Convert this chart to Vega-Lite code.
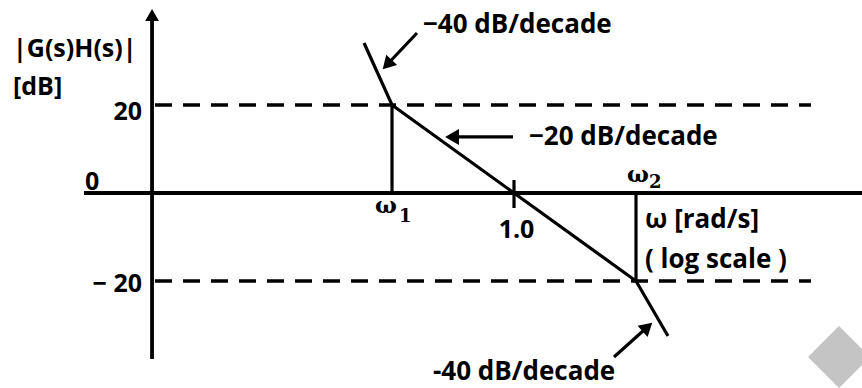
{
  "$schema": "https://vega.github.io/schema/vega-lite/v6.json",
  "width": 862,
  "height": 388,
  "autosize": "none",
  "padding": 0,
  "background": "white",
  "config": {"view": {"stroke": null}},
  "datasets": {
    "axes": [
      {"w": 0.001079, "w2": 0.001079, "db": -37.73, "db2": 39.3},
      {"w": 0.0002988, "w2": 712, "db": 0, "db2": 0}
    ],
    "solid": [
      {"w": 0.1, "w2": 0.1, "db": 0, "db2": 20},
      {"w": 10, "w2": 10, "db": -20, "db2": 0},
      {"w": 1, "w2": 1, "db": -3.41, "db2": 2.95},
      {"w": 0.1603, "w2": 0.09132, "db": 36.36, "db2": 29.2},
      {"w": 0.9813, "w2": 0.3103, "db": 12.73, "db2": 12.73},
      {"w": 6.601, "w2": 12.4, "db": -37.27, "db2": -30.45}
    ],
    "dashed": [
      {"w": 0.001141, "w2": 271.9, "db": 20, "db2": 20},
      {"w": 0.001141, "w2": 271.9, "db": -20, "db2": -20}
    ],
    "bode": [
      {"w": 0.059, "db": 34.09},
      {"w": 0.1, "db": 20},
      {"w": 1, "db": 0},
      {"w": 10, "db": -20},
      {"w": 18.29, "db": -32.5}
    ],
    "annotText": [
      {"w": 0.1795, "db": 36.36, "label": "−40 dB/decade"},
      {"w": 11.85, "db": -7.955, "label": "ω [rad/s]"},
      {"w": 11.85, "db": -17.05, "label": "( log scale )"},
      {"w": 1.327, "db": 10.91, "label": "−20 dB/decade"},
      {"w": 0.2168, "db": -42.5, "label": "-40 dB/decade"}
    ],
    "leftText": [
      {"w": 0.00007823, "db": 30.91, "label": "|G(s)H(s)|"},
      {"w": 0.00007823, "db": 22.27, "label": "[dB]"},
      {"w": 0.0003045, "db": 0.68, "label": "0"}
    ],
    "rightText": [
      {"w": 0.0008927, "db": 16.59, "label": "20"},
      {"w": 0.0008927, "db": -22.5, "label": "− 20"}
    ],
    "centerText": [
      {"w": 1.048, "db": -10.23, "label": "1.0"}
    ],
    "omega": [
      {"w": 0.07256, "db": -4.545, "label": "ω"},
      {"w": 8.438, "db": 2.5, "label": "ω"}
    ],
    "subscript": [
      {"w": 0.1142, "db": -6.59, "label": "1"},
      {"w": 12.78, "db": 1.136, "label": "2"}
    ]
  },
  "encoding": {
    "x": {"field": "w", "type": "quantitative", "scale": {"type": "log", "domain": [0.0000612, 712], "nice": false}, "axis": null},
    "y": {"field": "db", "type": "quantitative", "scale": {"domain": [-44.32, 43.86], "nice": false, "zero": false}, "axis": null}
  },
  "layer": [
    {
      "data": {"values": [{"w": 461.2, "db": -37.27}]},
      "mark": {"type": "point", "shape": "diamond", "filled": true, "size": 3844, "color": "#c4c4c4", "opacity": 1, "strokeWidth": 0}
    },
    {
      "data": {"name": "dashed"},
      "mark": {"type": "rule", "color": "black", "strokeWidth": 3.5, "strokeDash": [17, 11]},
      "encoding": {"x2": {"field": "w2"}, "y2": {"field": "db2"}}
    },
    {
      "data": {"name": "axes"},
      "mark": {"type": "rule", "color": "black", "strokeWidth": 3.8},
      "encoding": {"x2": {"field": "w2"}, "y2": {"field": "db2"}}
    },
    {
      "data": {"name": "solid"},
      "mark": {"type": "rule", "color": "black", "strokeWidth": 3.2},
      "encoding": {"x2": {"field": "w2"}, "y2": {"field": "db2"}}
    },
    {
      "data": {"name": "bode"},
      "mark": {"type": "line", "color": "black", "strokeWidth": 3.2},
      "encoding": {"order": {"field": "w", "type": "quantitative"}}
    },
    {
      "data": {"values": [{"w": 0.001079, "db": 40.45}]},
      "mark": {"type": "point", "shape": "triangle-up", "filled": true, "size": 190, "color": "black", "opacity": 1, "angle": 0}
    },
    {
      "data": {"values": [{"w": 0.09132, "db": 29.2}]},
      "mark": {"type": "point", "shape": "triangle-up", "filled": true, "size": 225, "color": "black", "opacity": 1, "angle": 223.4}
    },
    {
      "data": {"values": [{"w": 0.3103, "db": 12.73}]},
      "mark": {"type": "point", "shape": "triangle-up", "filled": true, "size": 256, "color": "black", "opacity": 1, "angle": 270}
    },
    {
      "data": {"values": [{"w": 12.4, "db": -30.45}]},
      "mark": {"type": "point", "shape": "triangle-up", "filled": true, "size": 225, "color": "black", "opacity": 1, "angle": 48.1}
    },
    {
      "data": {"name": "annotText"},
      "mark": {"type": "text", "align": "left", "baseline": "alphabetic", "font": "Open Sans", "fontWeight": "bold", "fontSize": 26, "color": "black"},
      "encoding": {"text": {"field": "label"}}
    },
    {
      "data": {"name": "leftText"},
      "mark": {"type": "text", "align": "left", "baseline": "alphabetic", "font": "Open Sans", "fontWeight": "bold", "fontSize": 25, "color": "black"},
      "encoding": {"text": {"field": "label"}}
    },
    {
      "data": {"name": "rightText"},
      "mark": {"type": "text", "align": "right", "baseline": "alphabetic", "font": "Open Sans", "fontWeight": "bold", "fontSize": 25, "color": "black"},
      "encoding": {"text": {"field": "label"}}
    },
    {
      "data": {"name": "centerText"},
      "mark": {"type": "text", "align": "center", "baseline": "alphabetic", "font": "Open Sans", "fontWeight": "bold", "fontSize": 25, "color": "black"},
      "encoding": {"text": {"field": "label"}}
    },
    {
      "data": {"name": "omega"},
      "mark": {"type": "text", "align": "left", "baseline": "alphabetic", "font": "DejaVu Serif", "fontWeight": "bold", "fontSize": 23, "color": "black"},
      "encoding": {"text": {"field": "label"}}
    },
    {
      "data": {"name": "subscript"},
      "mark": {"type": "text", "align": "left", "baseline": "alphabetic", "font": "DejaVu Serif", "fontWeight": "bold", "fontSize": 18, "color": "black"},
      "encoding": {"text": {"field": "label"}}
    }
  ]
}
